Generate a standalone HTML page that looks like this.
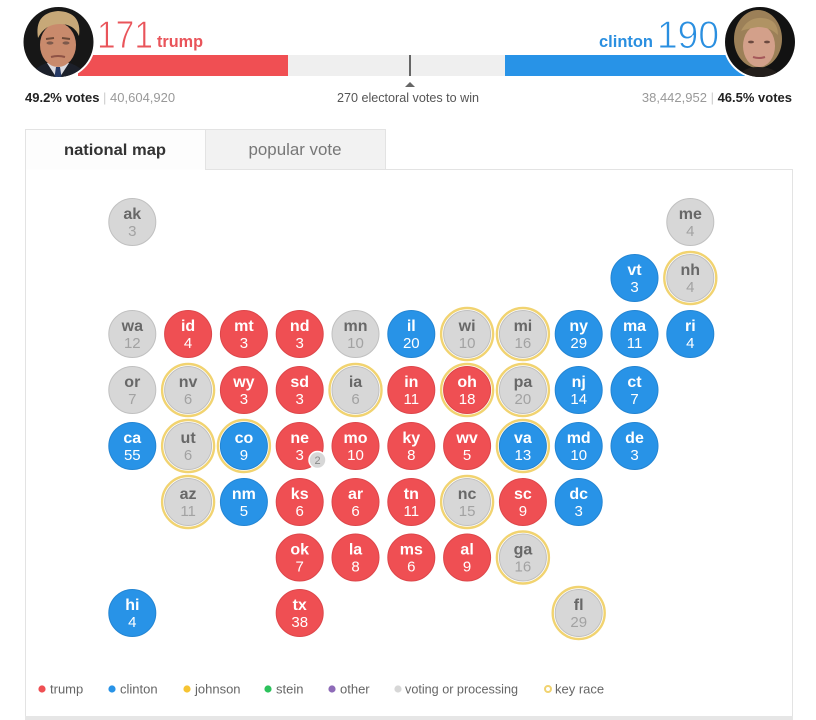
<!DOCTYPE html>
<html><head><meta charset="utf-8"><style>
html,body{margin:0;padding:0;background:#fff;}
svg{display:block;font-family:"Liberation Sans",Arial,sans-serif;}
.r{fill:#ef4f53;stroke:#dd464a;stroke-width:1}
.b{fill:#2893e7;stroke:#2385d3;stroke-width:1}
.g{fill:#d7d7d7;stroke:#c0c0c0;stroke-width:1}
.k{fill:none;stroke:#f1d370;stroke-width:2.4}
.lw{fill:#fff;font-weight:bold;font-size:16px;text-anchor:middle}
.nw{fill:#fff;font-size:15px;text-anchor:middle}
.lg{fill:#686868;font-weight:bold;font-size:16px;text-anchor:middle}
.ng{fill:#a2a2a2;font-size:15px;text-anchor:middle}
.leg{fill:#666;font-size:13px}
</style></head><body>
<svg width="816" height="720" viewBox="0 0 816 720" xmlns="http://www.w3.org/2000/svg">
<defs>
<clipPath id="ct"><circle cx="58.5" cy="42" r="35"/></clipPath>
<clipPath id="cc"><circle cx="760" cy="42" r="35"/></clipPath>
</defs>
<!-- bar -->
<rect x="78" y="55" width="210" height="21" fill="#f04f53"/>
<rect x="288" y="55" width="217" height="21" fill="#efefef"/>
<rect x="505" y="55" width="240" height="21" fill="#2893e7"/>
<rect x="409" y="55" width="2" height="21" fill="#666"/>
<polygon points="405,87 415,87 410,82" fill="#666"/>
<!-- trump photo -->
<circle cx="58.5" cy="42" r="37" fill="#fff"/>
<g clip-path="url(#ct)">
<rect x="20" y="5" width="80" height="80" fill="#171717"/>
<path d="M28 80 Q36 62 58 61 Q80 62 90 80 Z" fill="#1c202a"/>
<path d="M47 63 L58 80 L69 63 Z" fill="#dcdce2"/>
<path d="M56 67 L60 67 L62 80 L54 80 Z" fill="#263a66"/>
<ellipse cx="58" cy="45" rx="18" ry="22" fill="#c98a6c"/>
<path d="M38 38 Q34 13 58 11 Q82 12 79 36 Q74 24 60 24 Q45 24 38 38 Z" fill="#c7a878"/>
<path d="M46 39 L54 38 M62 38 L70 39" stroke="#6e4a38" stroke-width="2"/>
<ellipse cx="50" cy="43" rx="3.5" ry="1.6" fill="#7d5a4c"/>
<ellipse cx="66" cy="43" rx="3.5" ry="1.6" fill="#7d5a4c"/>
<path d="M51 57 Q58 55 65 57" stroke="#8e5245" stroke-width="2" fill="none"/>
</g>
<!-- clinton photo -->
<circle cx="760" cy="42" r="37" fill="#fff"/>
<g clip-path="url(#cc)">
<rect x="722" y="5" width="80" height="80" fill="#121212"/>
<ellipse cx="758" cy="39" rx="24" ry="29" fill="#9c8058"/>
<path d="M735 80 Q742 67 758 67 Q776 67 784 80 Z" fill="#231e1b"/>
<ellipse cx="759" cy="46" rx="16" ry="21" fill="#d3a08a"/>
<path d="M741 31 Q748 17 762 18 Q778 19 778 35 Q770 27 758 27 Q746 29 741 31 Z" fill="#b09364"/>
<ellipse cx="751" cy="42" rx="3" ry="1.4" fill="#6b4a40"/>
<ellipse cx="767" cy="42" rx="3" ry="1.4" fill="#6b4a40"/>
<path d="M753 57 Q759 59 765 57" stroke="#a5585a" stroke-width="2" fill="none"/>
</g>
<!-- header text -->
<text x="97" y="48" font-size="39" fill="#e9545a" stroke="#fff" stroke-width="0.9" textLength="56" lengthAdjust="spacingAndGlyphs">171</text>
<text x="157" y="47" font-size="17" font-weight="bold" fill="#e9545a" textLength="46" lengthAdjust="spacingAndGlyphs">trump</text>
<text x="599" y="47" font-size="17" font-weight="bold" fill="#2a8fe0" textLength="54" lengthAdjust="spacingAndGlyphs">clinton</text>
<text x="657" y="48" font-size="39" fill="#2a8fe0" stroke="#fff" stroke-width="0.9" textLength="62" lengthAdjust="spacingAndGlyphs">190</text>
<text x="25" y="102" font-size="13"><tspan font-weight="bold" fill="#222">49.2% votes</tspan><tspan fill="#ccc"> | </tspan><tspan fill="#999">40,604,920</tspan></text>
<text x="792" y="102" font-size="13" text-anchor="end"><tspan fill="#999">38,442,952</tspan><tspan fill="#ccc"> | </tspan><tspan font-weight="bold" fill="#222">46.5% votes</tspan></text>
<text x="408" y="102" font-size="12.6" fill="#555" text-anchor="middle">270 electoral votes to win</text>
<!-- panel & tabs -->
<rect x="25.5" y="129.5" width="180" height="40" fill="#fdfdfd"/>
<rect x="205.5" y="129.5" width="180" height="40" fill="#f2f2f2" stroke="#e3e3e3"/>
<path d="M205.5 129.5 L25.5 129.5 L25.5 717 M385.5 169.5 L792.5 169.5 L792.5 717" fill="none" stroke="#e3e3e3"/>
<rect x="25" y="716" width="768" height="4" fill="#e6e6e6"/>
<text x="115" y="155" font-size="16" font-weight="bold" fill="#333" text-anchor="middle" textLength="102" lengthAdjust="spacingAndGlyphs">national map</text>
<text x="295" y="155" font-size="16.5" fill="#777" text-anchor="middle" textLength="93" lengthAdjust="spacingAndGlyphs">popular vote</text>

<!-- row 0 -->
<g transform="translate(132.3,222)"><circle class="g" r="23.5"/><text class="lg" y="-3">ak</text><text class="ng" y="14">3</text></g>
<g transform="translate(690.3,222)"><circle class="g" r="23.5"/><text class="lg" y="-3">me</text><text class="ng" y="14">4</text></g>
<!-- row 1 -->
<g transform="translate(634.5,278)"><circle class="b" r="23.5"/><text class="lw" y="-3">vt</text><text class="nw" y="14">3</text></g>
<g transform="translate(690.3,278)"><circle class="k" r="26"/><circle class="g" r="23.5"/><text class="lg" y="-3">nh</text><text class="ng" y="14">4</text></g>
<!-- row 2 -->
<g transform="translate(132.3,334)"><circle class="g" r="23.5"/><text class="lg" y="-3">wa</text><text class="ng" y="14">12</text></g>
<g transform="translate(188.1,334)"><circle class="r" r="23.5"/><text class="lw" y="-3">id</text><text class="nw" y="14">4</text></g>
<g transform="translate(243.9,334)"><circle class="r" r="23.5"/><text class="lw" y="-3">mt</text><text class="nw" y="14">3</text></g>
<g transform="translate(299.7,334)"><circle class="r" r="23.5"/><text class="lw" y="-3">nd</text><text class="nw" y="14">3</text></g>
<g transform="translate(355.5,334)"><circle class="g" r="23.5"/><text class="lg" y="-3">mn</text><text class="ng" y="14">10</text></g>
<g transform="translate(411.3,334)"><circle class="b" r="23.5"/><text class="lw" y="-3">il</text><text class="nw" y="14">20</text></g>
<g transform="translate(467.1,334)"><circle class="k" r="26"/><circle class="g" r="23.5"/><text class="lg" y="-3">wi</text><text class="ng" y="14">10</text></g>
<g transform="translate(522.9,334)"><circle class="k" r="26"/><circle class="g" r="23.5"/><text class="lg" y="-3">mi</text><text class="ng" y="14">16</text></g>
<g transform="translate(578.7,334)"><circle class="b" r="23.5"/><text class="lw" y="-3">ny</text><text class="nw" y="14">29</text></g>
<g transform="translate(634.5,334)"><circle class="b" r="23.5"/><text class="lw" y="-3">ma</text><text class="nw" y="14">11</text></g>
<g transform="translate(690.3,334)"><circle class="b" r="23.5"/><text class="lw" y="-3">ri</text><text class="nw" y="14">4</text></g>
<!-- row 3 -->
<g transform="translate(132.3,390)"><circle class="g" r="23.5"/><text class="lg" y="-3">or</text><text class="ng" y="14">7</text></g>
<g transform="translate(188.1,390)"><circle class="k" r="26"/><circle class="g" r="23.5"/><text class="lg" y="-3">nv</text><text class="ng" y="14">6</text></g>
<g transform="translate(243.9,390)"><circle class="r" r="23.5"/><text class="lw" y="-3">wy</text><text class="nw" y="14">3</text></g>
<g transform="translate(299.7,390)"><circle class="r" r="23.5"/><text class="lw" y="-3">sd</text><text class="nw" y="14">3</text></g>
<g transform="translate(355.5,390)"><circle class="k" r="26"/><circle class="g" r="23.5"/><text class="lg" y="-3">ia</text><text class="ng" y="14">6</text></g>
<g transform="translate(411.3,390)"><circle class="r" r="23.5"/><text class="lw" y="-3">in</text><text class="nw" y="14">11</text></g>
<g transform="translate(467.1,390)"><circle class="k" r="26"/><circle class="r" r="23.5"/><text class="lw" y="-3">oh</text><text class="nw" y="14">18</text></g>
<g transform="translate(522.9,390)"><circle class="k" r="26"/><circle class="g" r="23.5"/><text class="lg" y="-3">pa</text><text class="ng" y="14">20</text></g>
<g transform="translate(578.7,390)"><circle class="b" r="23.5"/><text class="lw" y="-3">nj</text><text class="nw" y="14">14</text></g>
<g transform="translate(634.5,390)"><circle class="b" r="23.5"/><text class="lw" y="-3">ct</text><text class="nw" y="14">7</text></g>
<!-- row 4 -->
<g transform="translate(132.3,446)"><circle class="b" r="23.5"/><text class="lw" y="-3">ca</text><text class="nw" y="14">55</text></g>
<g transform="translate(188.1,446)"><circle class="k" r="26"/><circle class="g" r="23.5"/><text class="lg" y="-3">ut</text><text class="ng" y="14">6</text></g>
<g transform="translate(243.9,446)"><circle class="k" r="26"/><circle class="b" r="23.5"/><text class="lw" y="-3">co</text><text class="nw" y="14">9</text></g>
<g transform="translate(299.7,446)"><circle class="r" r="23.5"/><text class="lw" y="-3">ne</text><text class="nw" y="14">3</text></g>
<g transform="translate(317.5,460)"><circle r="8.5" fill="#d7d7d7" stroke="#fff" stroke-width="1.5"/><text y="4" font-size="11" fill="#888" text-anchor="middle">2</text></g>
<g transform="translate(355.5,446)"><circle class="r" r="23.5"/><text class="lw" y="-3">mo</text><text class="nw" y="14">10</text></g>
<g transform="translate(411.3,446)"><circle class="r" r="23.5"/><text class="lw" y="-3">ky</text><text class="nw" y="14">8</text></g>
<g transform="translate(467.1,446)"><circle class="r" r="23.5"/><text class="lw" y="-3">wv</text><text class="nw" y="14">5</text></g>
<g transform="translate(522.9,446)"><circle class="k" r="26"/><circle class="b" r="23.5"/><text class="lw" y="-3">va</text><text class="nw" y="14">13</text></g>
<g transform="translate(578.7,446)"><circle class="b" r="23.5"/><text class="lw" y="-3">md</text><text class="nw" y="14">10</text></g>
<g transform="translate(634.5,446)"><circle class="b" r="23.5"/><text class="lw" y="-3">de</text><text class="nw" y="14">3</text></g>
<!-- row 5 -->
<g transform="translate(188.1,502)"><circle class="k" r="26"/><circle class="g" r="23.5"/><text class="lg" y="-3">az</text><text class="ng" y="14">11</text></g>
<g transform="translate(243.9,502)"><circle class="b" r="23.5"/><text class="lw" y="-3">nm</text><text class="nw" y="14">5</text></g>
<g transform="translate(299.7,502)"><circle class="r" r="23.5"/><text class="lw" y="-3">ks</text><text class="nw" y="14">6</text></g>
<g transform="translate(355.5,502)"><circle class="r" r="23.5"/><text class="lw" y="-3">ar</text><text class="nw" y="14">6</text></g>
<g transform="translate(411.3,502)"><circle class="r" r="23.5"/><text class="lw" y="-3">tn</text><text class="nw" y="14">11</text></g>
<g transform="translate(467.1,502)"><circle class="k" r="26"/><circle class="g" r="23.5"/><text class="lg" y="-3">nc</text><text class="ng" y="14">15</text></g>
<g transform="translate(522.9,502)"><circle class="r" r="23.5"/><text class="lw" y="-3">sc</text><text class="nw" y="14">9</text></g>
<g transform="translate(578.7,502)"><circle class="b" r="23.5"/><text class="lw" y="-3">dc</text><text class="nw" y="14">3</text></g>
<!-- row 6 -->
<g transform="translate(299.7,557.5)"><circle class="r" r="23.5"/><text class="lw" y="-3">ok</text><text class="nw" y="14">7</text></g>
<g transform="translate(355.5,557.5)"><circle class="r" r="23.5"/><text class="lw" y="-3">la</text><text class="nw" y="14">8</text></g>
<g transform="translate(411.3,557.5)"><circle class="r" r="23.5"/><text class="lw" y="-3">ms</text><text class="nw" y="14">6</text></g>
<g transform="translate(467.1,557.5)"><circle class="r" r="23.5"/><text class="lw" y="-3">al</text><text class="nw" y="14">9</text></g>
<g transform="translate(522.9,557.5)"><circle class="k" r="26"/><circle class="g" r="23.5"/><text class="lg" y="-3">ga</text><text class="ng" y="14">16</text></g>
<!-- row 7 -->
<g transform="translate(132.3,613)"><circle class="b" r="23.5"/><text class="lw" y="-3">hi</text><text class="nw" y="14">4</text></g>
<g transform="translate(299.7,613)"><circle class="r" r="23.5"/><text class="lw" y="-3">tx</text><text class="nw" y="14">38</text></g>
<g transform="translate(578.7,613)"><circle class="k" r="26"/><circle class="g" r="23.5"/><text class="lg" y="-3">fl</text><text class="ng" y="14">29</text></g>

<!-- legend -->
<circle cx="42" cy="689" r="3.6" fill="#ef4f53"/><text class="leg" x="50" y="693.5">trump</text>
<circle cx="112" cy="689" r="3.6" fill="#2893e7"/><text class="leg" x="120" y="693.5">clinton</text>
<circle cx="187" cy="689" r="3.6" fill="#f6c433"/><text class="leg" x="195" y="693.5">johnson</text>
<circle cx="268" cy="689" r="3.6" fill="#2cc25c"/><text class="leg" x="276" y="693.5">stein</text>
<circle cx="332" cy="689" r="3.6" fill="#8e6bb8"/><text class="leg" x="340" y="693.5">other</text>
<circle cx="398" cy="689" r="3.6" fill="#d7d7d7"/><text class="leg" x="405" y="693.5" textLength="113" lengthAdjust="spacingAndGlyphs">voting or processing</text>
<circle cx="548" cy="689" r="3" fill="none" stroke="#f1d370" stroke-width="2"/><text class="leg" x="555" y="693.5">key race</text>
</svg>
</body></html>
